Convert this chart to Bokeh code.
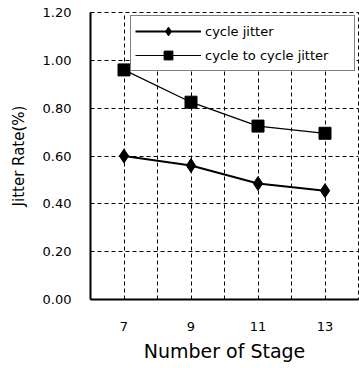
from bokeh.plotting import figure
from bokeh.models import FixedTicker, Range1d, Legend, LegendItem, NumeralTickFormatter
from bokeh.embed import file_html
from bokeh.resources import INLINE

stages = [7, 9, 11, 13]
cycle_jitter = [0.60, 0.56, 0.485, 0.455]
c2c_jitter = [0.96, 0.825, 0.725, 0.695]
x_tick_labels = [7, 9, 11, 13]
y_ticks = [0.0, 0.2, 0.4, 0.6, 0.8, 1.0, 1.2]

FONT = "DejaVu Sans"

p = figure(width=359, height=368, output_backend="svg", toolbar_location=None,
           x_range=Range1d(6, 14), y_range=Range1d(0, 1.2),
           min_border_left=90, min_border_right=1, min_border_top=12, min_border_bottom=69)
p.background_fill_color = "white"
p.border_fill_color = "white"
p.outline_line_color = "black"
p.outline_line_dash = "4 3"
p.outline_line_width = 1

for ax in (p.xaxis[0], p.yaxis[0]):
    ax.axis_line_color = "black"
    ax.axis_line_width = 2
    ax.major_tick_line_color = None
    ax.minor_tick_line_color = None
    ax.major_label_text_font = FONT
    ax.major_label_text_font_size = "13px"
    ax.major_label_text_color = "black"
    ax.axis_label_text_font = FONT
    ax.axis_label_text_font_style = "normal"
    ax.axis_label_text_color = "black"

p.xaxis.ticker = FixedTicker(ticks=x_tick_labels)
p.xaxis.major_label_standoff = 16
p.xaxis.axis_label = "Number of Stage"
p.xaxis.axis_label_text_font_size = "19px"
p.xaxis.axis_label_standoff = 6

p.yaxis.ticker = FixedTicker(ticks=y_ticks)
p.yaxis.formatter = NumeralTickFormatter(format="0.00")
p.yaxis.major_label_standoff = 13
p.yaxis.axis_label = "Jitter Rate(%)"
p.yaxis.axis_label_text_font_size = "15px"
p.yaxis.axis_label_standoff = 12

p.xgrid.ticker = FixedTicker(ticks=list(range(6, 15)))
p.ygrid.ticker = FixedTicker(ticks=y_ticks)
for g in (p.xgrid[0], p.ygrid[0]):
    g.grid_line_color = "black"
    g.grid_line_dash = "4 3"
    g.grid_line_width = 1

l1 = p.line(stages, cycle_jitter, line_color="black", line_width=2)
m1 = p.scatter(stages, cycle_jitter, marker="diamond", size=14,
               fill_color="black", line_color="black")
l2 = p.line(stages, c2c_jitter, line_color="black", line_width=1.2)
m2 = p.scatter(stages, c2c_jitter, marker="square", size=12,
               fill_color="black", line_color="black")

legend = Legend(items=[LegendItem(label="cycle jitter", renderers=[l1, m1]),
                       LegendItem(label="cycle to cycle jitter", renderers=[l2, m2])],
                location="top_right")
legend.margin = 3
legend.padding = 4
legend.spacing = 2
legend.glyph_width = 66
legend.glyph_height = 22
legend.label_standoff = 4
legend.label_width = 145
legend.label_height = 22
legend.label_text_font = FONT
legend.label_text_font_size = "13px"
legend.label_text_color = "black"
legend.border_line_color = "black"
legend.border_line_width = 1.5
legend.background_fill_color = "white"
legend.background_fill_alpha = 1
p.add_layout(legend)

open("out.html", "w").write(file_html(p, INLINE))
